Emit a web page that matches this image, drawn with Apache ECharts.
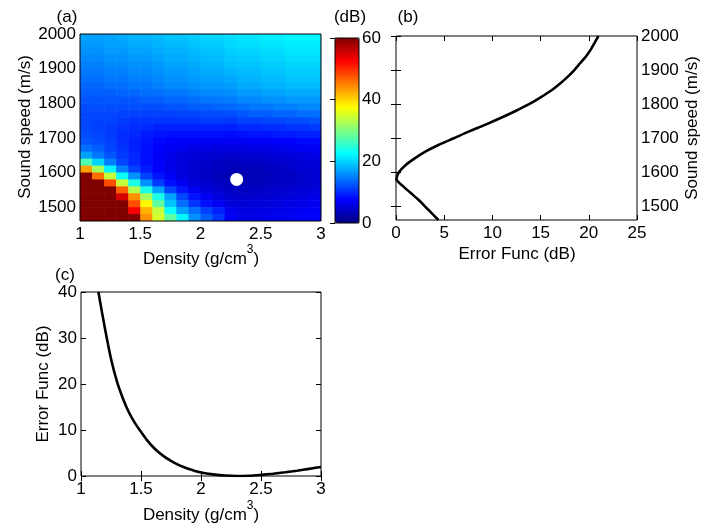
<!DOCTYPE html>
<html lang="en">
<head>
    <meta charset="UTF-8">
    <title>Error function maps</title>
    <script src="https://cdn.jsdelivr.net/npm/echarts@6/dist/echarts.min.js"></script>
    <style>
        html, body { margin: 0; padding: 0; background: #fff; }
        #main { width: 711px; height: 525px; }
    </style>
</head>
<body>
<div id="main"></div>
<script type="text/javascript">
    // ---- data ----
    // (a) error map: cell centres
    var densities = [1.05, 1.15, 1.25, 1.35, 1.45, 1.55, 1.65, 1.75, 1.85, 1.95,
                     2.05, 2.15, 2.25, 2.35, 2.45, 2.55, 2.65, 2.75, 2.85, 2.95];
    var speeds = [1990, 1970, 1950, 1930, 1910, 1890, 1870, 1850, 1830, 1810,
                  1790, 1770, 1750, 1730, 1710, 1690, 1670, 1650, 1630, 1610,
                  1590, 1570, 1550, 1530, 1510, 1490, 1470];
    // one row per speed (top to bottom), one value per density, dB
    var errGrid = [
        [17, 17, 17, 17.5, 18, 18, 18.5, 19, 19, 19.5, 20, 20, 20.5, 21, 21, 21.5, 21.5, 22, 22, 22],
        [16.5, 16.5, 17, 17, 17.5, 17.5, 18, 18.5, 18.5, 19, 19.5, 19.5, 20.2, 20.5, 20.5, 21, 21, 21.5, 21.5, 21.5],
        [16, 16, 16.5, 16.5, 17, 17, 17.5, 18, 18, 18.5, 19, 19, 19.7, 20, 20, 20.5, 20.5, 21, 21, 21],
        [15.5, 15.5, 16, 16, 16.5, 16.5, 17, 17.5, 17.5, 18, 18.5, 18.5, 19.2, 19.5, 19.5, 20, 20, 20.5, 20.5, 20.5],
        [15, 15, 15.5, 15.5, 16, 16, 16.5, 17, 17, 17.5, 18, 18, 18.7, 19, 19, 19.5, 19.5, 20, 20, 20],
        [14.5, 14.5, 15, 15, 15.5, 15.5, 16, 16.5, 16.5, 17, 17.5, 17.5, 18.1, 18.5, 18.5, 19, 19, 19.5, 19.5, 19.5],
        [14, 14, 14.5, 14.5, 15, 15, 15.5, 16, 16, 16.5, 17, 17, 17.4, 18, 18, 18.5, 18.5, 19, 19, 19],
        [13.5, 13.5, 14, 14, 14.5, 14.5, 15, 15.5, 15.5, 16, 16.5, 16.5, 16.7, 17.5, 17.5, 18, 18, 18.5, 18.5, 18.5],
        [13, 13, 13, 13.5, 13.5, 14, 14, 14.5, 14.5, 15, 15.5, 15.5, 15.8, 16.5, 16.5, 17, 17, 17.5, 17.5, 17.5],
        [12.5, 12.5, 12.5, 12.5, 12.5, 13, 13, 13.5, 13.5, 14, 14.5, 14.5, 14.8, 15.5, 15.5, 16, 16, 16.5, 16.5, 16.5],
        [12, 12, 12, 12, 12, 12, 12, 12.5, 12.5, 13, 13, 13.5, 13.6, 14, 14.5, 14.5, 15, 15, 15.5, 15.5],
        [11.6, 11.6, 11.6, 11.3, 11.3, 11.3, 11.3, 11.3, 11.6, 11.6, 12, 12, 12, 12.5, 13, 13, 13.5, 13.5, 14, 14],
        [11.6, 11.3, 11.3, 10.9, 10.5, 10.5, 10.5, 10.5, 10.5, 10.5, 10.9, 10.9, 10.7, 11.3, 11.3, 11.6, 11.6, 12, 12, 12.5],
        [11.6, 11.3, 10.9, 10.5, 10.1, 9.8, 9.4, 9.4, 9.4, 9.4, 9.4, 9.4, 9.3, 9.8, 9.8, 10.1, 10.1, 10.5, 10.5, 10.9],
        [12, 11.6, 10.9, 10.1, 9.8, 9, 8.6, 8.3, 8.3, 8.3, 8.3, 8.3, 8.1, 8.3, 8.6, 8.6, 9, 9, 9.4, 9.4],
        [12.5, 12, 11.3, 10.1, 9.4, 8.6, 7.9, 7.5, 7.1, 7.1, 6.8, 6.8, 6.8, 6.9, 7.1, 7.1, 7.5, 7.5, 7.9, 7.9],
        [14, 13, 11.6, 10.5, 9.4, 8.3, 7.5, 6.8, 6.4, 6, 5.9, 5.6, 5.6, 5.6, 5.9, 6, 6.2, 6.4, 6.8, 6.8],
        [17, 14.5, 12.5, 10.9, 9.8, 8.3, 7.1, 6.4, 5.6, 5.3, 5, 4.7, 4.6, 4.7, 4.8, 5, 5.3, 5.5, 5.7, 6],
        [27, 20, 15, 11.6, 9.8, 8.3, 7.1, 6, 5.3, 4.8, 4.4, 4.1, 3.8, 3.9, 4.1, 4.3, 4.5, 4.8, 5.1, 5.4],
        [43, 32, 22, 15, 11.3, 9, 7.5, 6.4, 5.4, 4.7, 4.1, 3.8, 3.4, 3.4, 3.5, 3.8, 4.1, 4.4, 4.7, 5],
        [60, 46, 34, 23, 16, 11.3, 8.6, 7, 5.6, 4.7, 4.1, 3.5, 3.1, 3.1, 3.2, 3.5, 3.8, 4.1, 4.4, 4.7],
        [60, 60, 48, 34, 24, 16, 10.9, 8.3, 6.6, 5.4, 4.5, 3.9, 3.3, 3.2, 3.4, 3.7, 4, 4.3, 4.6, 4.9],
        [60, 60, 60, 47, 33, 24, 17, 11.6, 8.6, 6.8, 5.5, 4.7, 4, 3.9, 4, 4.2, 4.5, 4.8, 5.1, 5.4],
        [60, 60, 60, 55, 44, 32, 24, 17, 11.6, 8.6, 6.8, 5.6, 4.7, 4.5, 4.6, 4.8, 5.1, 5.4, 5.7, 6],
        [60, 60, 60, 60, 48, 38, 28, 19, 14, 10.5, 8.3, 6.8, 5.3, 5.1, 5.2, 5.3, 5.6, 5.9, 6.2, 6.5],
        [60, 60, 60, 60, 53, 42, 34, 23, 17, 14, 11.3, 9.4, 6.4, 5.7, 5.8, 6, 6.2, 6.5, 6.8, 7.1],
        [60, 60, 60, 60, 60, 44, 35, 28, 22, 16, 13, 10.5, 7.1, 6.2, 6.2, 6.4, 6.6, 6.8, 7.1, 7.4]
    ];
    var bestPoint = [2.3, 1580];

    // (b) error along sound speed
    var bSpeeds = [1460, 1480, 1500, 1520, 1540, 1560, 1580, 1600, 1620, 1640,
                   1660, 1680, 1700, 1720, 1740, 1760, 1780, 1800, 1820, 1840,
                   1860, 1880, 1900, 1920, 1940, 1960, 1980, 2000];
    var bError = [4.4, 3.7, 3.0, 2.3, 1.5, 0.7, 0.05, 0.3, 0.95, 1.9,
                  3.0, 4.4, 6.0, 7.6, 9.3, 10.9, 12.4, 13.8, 15.0, 16.1,
                  17.0, 17.8, 18.5, 19.1, 19.7, 20.2, 20.6, 21.0];

    // (c) error along density
    var cDensity = [1.145, 1.2, 1.25, 1.3, 1.35, 1.4, 1.45, 1.5, 1.55, 1.6,
                    1.65, 1.7, 1.75, 1.8, 1.85, 1.9, 1.95, 2.0, 2.1, 2.2,
                    2.3, 2.4, 2.5, 2.6, 2.7, 2.8, 2.9, 3.0];
    var cError = [40, 32, 25.5, 20.5, 16.8, 13.8, 11.5, 9.6, 7.8, 6.3,
                  5.1, 4.1, 3.3, 2.6, 2.0, 1.5, 1.1, 0.75, 0.35, 0.1,
                  0.0, 0.05, 0.25, 0.5, 0.8, 1.15, 1.55, 1.95];

    var speedTicks = [1500, 1600, 1700, 1800, 1900, 2000];

    // ---- build series data ----
    var heatData = [];
    for (var i = 0; i < speeds.length; i++) {
        for (var j = 0; j < densities.length; j++) {
            heatData.push([densities[j], speeds[i], errGrid[i][j]]);
        }
    }
    var bData = [];
    for (var k = 0; k < bSpeeds.length; k++) {
        bData.push([bError[k], bSpeeds[k]]);
    }
    var cData = [];
    for (var m = 0; m < cDensity.length; m++) {
        cData.push([cDensity[m], cError[m]]);
    }

    var jet = ['#000080', '#0000ff', '#0080ff', '#00ffff', '#80ff80',
               '#ffff00', '#ff8000', '#ff0000', '#800000'];
    var FONT = 'Liberation Sans, Arial, sans-serif';
    var halfDx = 0.05, halfDy = 10;

    function renderCell(params, api) {
        var x = api.value(0), y = api.value(1);
        var p0 = api.coord([x - halfDx, y + halfDy]);
        var p1 = api.coord([x + halfDx, y - halfDy]);
        return {
            type: 'rect',
            shape: { x: p0[0], y: p0[1], width: p1[0] - p0[0] + 0.6, height: p1[1] - p0[1] + 0.6 },
            style: { fill: api.visual('color') }
        };
    }

    function plain(v) { return String(v); }

    // mirrored axes only carry ticks
    function tickOnly(extra) {
        var a = {
            type: 'value',
            axisLine: { show: false },
            axisTick: { show: true, inside: true, length: 5, lineStyle: { color: '#000' } },
            axisLabel: { show: false },
            splitLine: { show: false }
        };
        for (var key in extra) a[key] = extra[key];
        return a;
    }
    function labelled(extra) {
        var a = tickOnly(extra);
        a.axisLabel = { show: true, margin: 5, color: '#000', fontSize: 17, fontFamily: FONT, formatter: plain };
        if (extra.axisLabel) {
            for (var key in extra.axisLabel) a.axisLabel[key] = extra.axisLabel[key];
        }
        return a;
    }

    function title(txt, x, y, rot) {
        return {
            type: 'text', x: x, y: y, rotation: rot || 0,
            style: { text: txt, fill: '#000', font: '17px ' + FONT,
                     align: 'center', verticalAlign: 'middle',
                     textAlign: 'center', textVerticalAlign: 'middle' }
        };
    }
    // axis title with a raised superscript 3
    function densityTitle(x, y) {
        return {
            type: 'text', x: x, y: y,
            style: {
                text: '{n|Density (g/cm}{sup|3}{n|)}',
                fill: '#000', font: '17px ' + FONT,
                align: 'center', verticalAlign: 'middle',
                textAlign: 'center', textVerticalAlign: 'middle',
                rich: {
                    n: { fontSize: 17, fontFamily: FONT, lineHeight: 24, verticalAlign: 'bottom', fill: '#000' },
                    sup: { fontSize: 12, fontFamily: FONT, lineHeight: 12, verticalAlign: 'top', fill: '#000' }
                }
            }
        };
    }

    var myChart = echarts.init(document.getElementById('main'));

    var option = {
        animation: false,
        backgroundColor: '#fff',
        grid: [
            { left: 80, top: 34, width: 241, height: 187, show: true, z: 5, borderColor: '#000', borderWidth: 1, backgroundColor: 'transparent' },
            { left: 335, top: 38, width: 24, height: 185, show: true, z: 10, borderColor: '#000', borderWidth: 1, backgroundColor: 'transparent' },
            { left: 396, top: 36, width: 241, height: 184, show: true, borderColor: '#000', borderWidth: 1, backgroundColor: 'transparent' },
            { left: 81, top: 292, width: 240, height: 184, show: true, borderColor: '#000', borderWidth: 1, backgroundColor: 'transparent' }
        ],
        xAxis: [
            labelled({ gridIndex: 0, min: 1, max: 3, interval: 0.5, axisTick: { show: false } }),
            { type: 'value', gridIndex: 1, min: 0, max: 1, show: false },
            labelled({ gridIndex: 2, min: 0, max: 25, interval: 5 }),
            tickOnly({ gridIndex: 2, min: 0, max: 25, interval: 5, position: 'top' }),
            labelled({ gridIndex: 3, min: 1, max: 3, interval: 0.5 }),
            tickOnly({ gridIndex: 3, min: 1, max: 3, interval: 0.5, position: 'top' })
        ],
        yAxis: [
            labelled({ gridIndex: 0, min: 1460, max: 2000, axisTick: { show: false },
                       axisLabel: { customValues: speedTicks, margin: 4 } }),
            labelled({ gridIndex: 1, min: 0, max: 60, interval: 20, position: 'right', z: 10,
                       axisLabel: { margin: 3 } }),
            labelled({ gridIndex: 2, min: 1460, max: 2000, position: 'right',
                       axisTick: { show: true, inside: true, length: 5, customValues: speedTicks, lineStyle: { color: '#000' } },
                       axisLabel: { customValues: speedTicks, margin: 4 } }),
            tickOnly({ gridIndex: 2, min: 1460, max: 2000, position: 'left',
                       axisTick: { show: true, inside: true, length: 5, customValues: speedTicks, lineStyle: { color: '#000' } } }),
            labelled({ gridIndex: 3, min: 0, max: 40, interval: 10, axisLabel: { margin: 4 } }),
            tickOnly({ gridIndex: 3, min: 0, max: 40, interval: 10, position: 'right' })
        ],
        visualMap: {
            type: 'continuous',
            seriesIndex: 0,
            dimension: 2,
            min: 0,
            max: 60,
            left: 335,
            top: 38,
            itemWidth: 24,
            itemHeight: 185,
            padding: 0,
            calculable: false,
            hoverLink: false,
            inRange: { color: jet }
        },
        graphic: [
            title('(a)', 67, 17),
            title('(dB)', 350, 17),
            title('(b)', 408, 17),
            title('(c)', 65, 275),
            title('Sound speed (m/s)', 25, 127, Math.PI / 2),
            densityTitle(201, 256),
            title('Error Func (dB)', 517, 254),
            title('Sound speed (m/s)', 692, 128, Math.PI / 2),
            title('Error Func (dB)', 43, 384, Math.PI / 2),
            densityTitle(201, 512)
        ],
        series: [
            {
                type: 'custom',
                xAxisIndex: 0,
                yAxisIndex: 0,
                renderItem: renderCell,
                encode: { x: 0, y: 1 },
                clip: true,
                data: heatData
            },
            {
                type: 'scatter',
                xAxisIndex: 0,
                yAxisIndex: 0,
                symbolSize: 13,
                itemStyle: { color: '#fff', opacity: 1 },
                z: 4,
                data: [bestPoint]
            },
            {
                type: 'line',
                xAxisIndex: 2,
                yAxisIndex: 2,
                showSymbol: false,
                smooth: 0.3,
                lineStyle: { color: '#000', width: 2.6 },
                data: bData
            },
            {
                type: 'line',
                xAxisIndex: 4,
                yAxisIndex: 4,
                showSymbol: false,
                smooth: 0.3,
                clip: true,
                lineStyle: { color: '#000', width: 2.6 },
                data: cData
            }
        ]
    };

    myChart.setOption(option);
</script>
</body>
</html>
